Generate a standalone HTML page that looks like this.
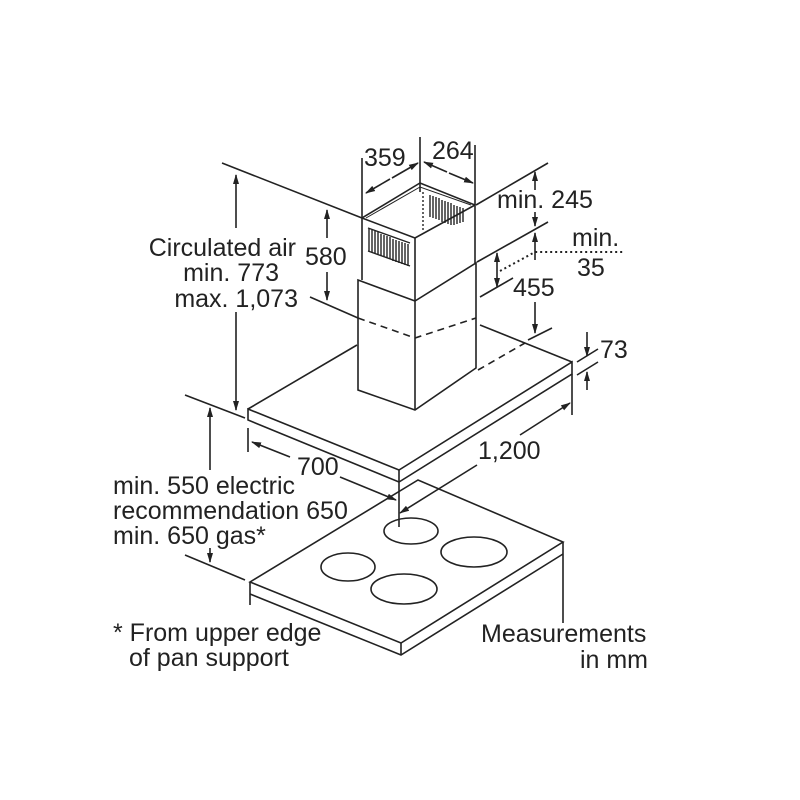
<!DOCTYPE html>
<html><head><style>
html,body{margin:0;padding:0;background:#fff;}
svg{display:block;}
text{font-family:"Liberation Sans",sans-serif;font-size:25px;fill:#222;}
</style></head><body>
<svg width="800" height="800" viewBox="0 0 800 800" xmlns="http://www.w3.org/2000/svg">
<defs>
<marker id="a" markerWidth="10" markerHeight="10" refX="9" refY="5" orient="auto" markerUnits="userSpaceOnUse">
<path d="M0,2 L10,5 L0,8 Z" fill="#222"/></marker>
</defs>
<g stroke="#222" stroke-width="1.6" fill="none">
<!-- cooktop -->
<path d="M250,582 L418,480 L563,542 L401,643 Z"/>
<path d="M250,582 L250,605"/>
<path d="M250,594 L401,655 L563,554"/>
<path d="M563,542 L563,623"/>
<path d="M401,643 L401,655"/>
<ellipse cx="411" cy="531" rx="27" ry="13"/>
<ellipse cx="474" cy="552" rx="33" ry="15"/>
<ellipse cx="348" cy="567" rx="27" ry="14"/>
<ellipse cx="404" cy="589" rx="33" ry="15"/>
<!-- hood canopy -->
<path d="M248,409 L399,470 L572,362 L572,374 L399,482 L248,420 Z" fill="#fff"/>
<path d="M399,470 L399,482"/>
<path d="M248,409 L357,345"/>
<path d="M572,362 L480,325"/>
<path d="M478,370 L525,343" stroke-dasharray="7,5"/>
<path d="M528,340 L552,328"/>
<!-- lower chimney -->
<path d="M358,280 L415,301 L476,263 L476,368 L415,410 L358,390 Z" fill="#fff"/>
<path d="M415,301 L415,410"/>
<path d="M358,318 L415,338 L476,318" stroke-dasharray="7,5"/>
<path d="M310,297 L358,318"/>
<!-- upper chimney -->
<path d="M362,280 L362,218 L420,183 L475,205 L475,263"/>
<path d="M362,218 L415,238 L475,205"/>
<path d="M415,238 L415,301"/>
<path d="M420,183 L420,192"/>
<path d="M366,218 L420,187 L471,205" stroke-width="1"/>
<g stroke-width="1.4">
<path d="M369,229 v22 M372,230 v22 M375,231 v22 M378,232 v22 M381,234 v22 M384,235 v22 M387,236 v22 M390,237 v22 M393,239 v22 M396,240 v22 M399,241 v22 M402,242 v22 M405,243 v22 M408,244 v22"/>
<path d="M368,228 L410,243 M368,251 L410,266"/>
<path d="M430,195 v22 M433,196 v22 M436,197 v22 M439,198 v22 M442,200 v22 M445,201 v22 M448,202 v22 M451,203 v22 M454,205 v20 M457,206 v18 M460,207 v16 M463,208 v14"/>
<path d="M423,192 v38" stroke-dasharray="2,2"/>
</g>
<!-- extension lines top -->
<path d="M222,163 L362,218"/>
<path d="M476,205 L548,163"/>
<path d="M477,262 L548,222"/>
<path d="M480,297 L513,278"/>
<path d="M362,218 L362,158"/>
<path d="M420,183 L420,137"/>
<path d="M475,205 L475,145"/>
<path d="M390,179 L366,193" marker-end="url(#a)"/>
<path d="M392,178 L418,163" marker-end="url(#a)"/>
<path d="M447,172 L424,162" marker-end="url(#a)"/>
<path d="M449,173 L473,183" marker-end="url(#a)"/>
<path d="M535,190 L535,172" marker-end="url(#a)"/>
<path d="M535,212 L535,226" marker-end="url(#a)"/>
<path d="M535,260 L535,233" marker-end="url(#a)"/>
<path d="M535,302 L535,333" marker-end="url(#a)"/>
<path d="M497,270 L497,253" marker-end="url(#a)"/>
<path d="M497,270 L497,287" marker-end="url(#a)"/>
<path d="M500,271 L535,252 L623,252" stroke-dasharray="2,3" stroke-width="2"/>
<path d="M327,238 L327,210" marker-end="url(#a)"/>
<path d="M327,272 L327,300" marker-end="url(#a)"/>
<path d="M236,228 L236,175" marker-end="url(#a)"/>
<path d="M236,312 L236,410" marker-end="url(#a)"/>
<!-- 73 -->
<path d="M577,362 L598,349"/>
<path d="M577,375 L598,362"/>
<path d="M587,332 L587,356" marker-end="url(#a)"/>
<path d="M587,390 L587,372" marker-end="url(#a)"/>
<!-- 1,200 -->
<path d="M572,374 L572,415"/>
<path d="M520,435 L570,403" marker-end="url(#a)"/>
<path d="M477,465 L400,513" marker-end="url(#a)"/>
<path d="M399,482 L399,527"/>
<!-- 700 -->
<path d="M248,428 L248,452"/>
<path d="M290,457 L252,442" marker-end="url(#a)"/>
<path d="M340,477 L396,500" marker-end="url(#a)"/>
<!-- min 550 -->
<path d="M185,395 L245,418"/>
<path d="M185,555 L245,580"/>
<path d="M210,470 L210,408" marker-end="url(#a)"/>
<path d="M210,548 L210,562" marker-end="url(#a)"/>
</g>
<g>
<text x="296" y="256" text-anchor="end">Circulated air</text>
<text x="279" y="281" text-anchor="end">min. 773</text>
<text x="298" y="307" text-anchor="end">max. 1,073</text>
<text x="305" y="265">580</text>
<text x="364" y="166">359</text>
<text x="432" y="159">264</text>
<text x="497" y="208">min. 245</text>
<text x="572" y="246">min.</text>
<text x="577" y="276">35</text>
<text x="513" y="296">455</text>
<text x="600" y="358">73</text>
<text x="478" y="459">1,200</text>
<text x="297" y="475">700</text>
<text x="113" y="494">min. 550 electric</text>
<text x="113" y="519">recommendation 650</text>
<text x="113" y="544">min. 650 gas*</text>
<text x="113" y="641">* From upper edge</text>
<text x="129" y="666">of pan support</text>
<text x="481" y="642">Measurements</text>
<text x="648" y="668" text-anchor="end">in mm</text>
</g>
</svg>
</body></html>
